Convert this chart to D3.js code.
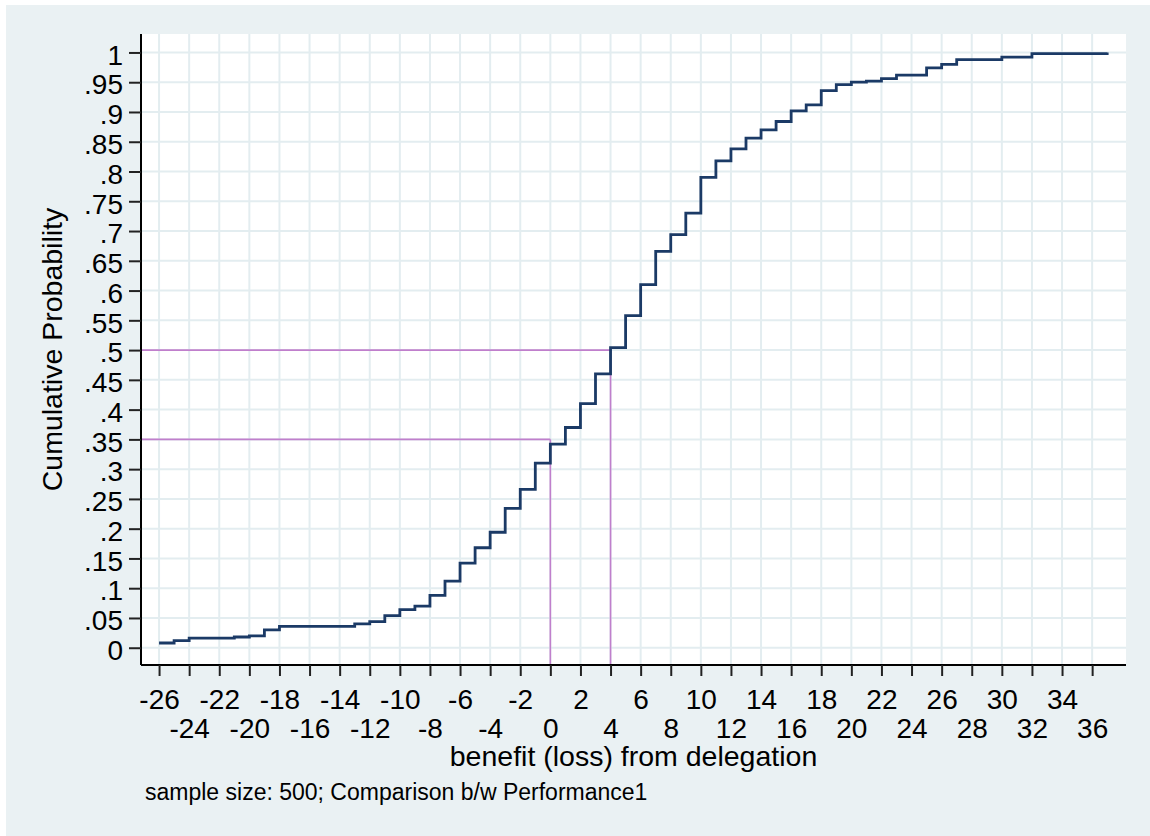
<!DOCTYPE html>
<html>
<head>
<meta charset="utf-8">
<script src="https://cdn.jsdelivr.net/npm/d3@7"></script>
<style>
  html, body { margin: 0; padding: 0; background: #ffffff; }
  svg { display: block; }
  text { font-family: "Liberation Sans", Arial, sans-serif; fill: #000; }
</style>
</head>
<body>
<svg id="chart" width="1150" height="836"></svg>
<script>
// Empirical CDF of the benefit (loss) from delegation: step positions and cumulative shares
const stepX = [-26, -25, -24, -21, -20, -19, -18, -13, -12, -11, -10, -9, -8, -7, -6, -5, -4, -3, -2, -1,
               0, 1, 2, 3, 4, 5, 6, 7, 8, 9, 10, 11, 12, 13, 14, 15, 16, 17, 18, 19,
               20, 21, 22, 23, 25, 26, 27, 30, 32, 37];
const cumProb = [0.008, 0.012, 0.016, 0.018, 0.020, 0.030, 0.036, 0.040, 0.044, 0.054, 0.064, 0.070, 0.088, 0.112, 0.142, 0.168, 0.194, 0.234, 0.266, 0.310,
                 0.342, 0.370, 0.410, 0.460, 0.504, 0.558, 0.610, 0.666, 0.694, 0.730, 0.790, 0.818, 0.838, 0.856, 0.870, 0.884, 0.902, 0.912, 0.936, 0.946,
                 0.950, 0.952, 0.956, 0.962, 0.974, 0.980, 0.988, 0.992, 0.998, 1.000];

// Reference lines: x value and the cumulative probability it is read at
const refX = [0, 4];
const refY = [0.35, 0.5];

// Axis ticks
const xTicks = [-26, -24, -22, -20, -18, -16, -14, -12, -10, -8, -6, -4, -2, 0, 2, 4, 6, 8, 10, 12, 14, 16, 18, 20, 22, 24, 26, 28, 30, 32, 34, 36];
const yTicks = [0, 0.05, 0.1, 0.15, 0.2, 0.25, 0.3, 0.35, 0.4, 0.45, 0.5, 0.55, 0.6, 0.65, 0.7, 0.75, 0.8, 0.85, 0.9, 0.95, 1];

// Axis extents
const xExtent = [-27.2, 38.25];
const yExtent = [-0.029, 1.031];

const xTitle = "benefit (loss) from delegation";
const yTitle = "Cumulative Probability";
const note = "sample size: 500; Comparison b/w Performance1";

const svg = d3.select("#chart");
const plot = { left: 141, right: 1126, top: 34, bottom: 665 };

const x = d3.scaleLinear().domain(xExtent).range([plot.left, plot.right]);
const y = d3.scaleLinear().domain(yExtent).range([plot.bottom, plot.top]);

// Outer graph region and white plot region
svg.append("rect").attr("x", 6).attr("y", 5).attr("width", 1144).attr("height", 831).attr("fill", "#eaf1f3");
svg.append("rect").attr("x", plot.left).attr("y", plot.top)
  .attr("width", plot.right - plot.left).attr("height", plot.bottom - plot.top).attr("fill", "#ffffff");

// Grid
const grid = svg.append("g").attr("stroke", "#e3edf0").attr("stroke-width", 2);
grid.selectAll("line.v").data(xTicks).join("line")
  .attr("x1", d => x(d)).attr("x2", d => x(d))
  .attr("y1", plot.top).attr("y2", plot.bottom);
grid.selectAll("line.h").data(yTicks).join("line")
  .attr("x1", plot.left).attr("x2", plot.right)
  .attr("y1", d => y(d)).attr("y2", d => y(d));

// Reference lines
const ref = svg.append("g").attr("stroke", "#c07fcc").attr("stroke-width", 1.6).attr("fill", "none");
refX.forEach((rx, i) => {
  ref.append("line").attr("x1", plot.left).attr("x2", x(rx)).attr("y1", y(refY[i])).attr("y2", y(refY[i]));
  ref.append("line").attr("x1", x(rx)).attr("x2", x(rx)).attr("y1", y(refY[i])).attr("y2", plot.bottom);
});

// ECDF step line
const pts = stepX.map((v, i) => [v, cumProb[i]]);
const line = d3.line().x(d => x(d[0])).y(d => y(d[1])).curve(d3.curveStepAfter);
svg.append("path").datum(pts)
  .attr("d", line)
  .attr("fill", "none")
  .attr("stroke", "#1b3a66")
  .attr("stroke-width", 2.8)
  .attr("stroke-linejoin", "miter");

// Y axis
const fmtY = d => d3.format(".2~f")(d).replace(/^0\./, ".");
const yAxis = svg.append("g").attr("transform", `translate(${plot.left},0)`)
  .call(d3.axisLeft(y).tickValues(yTicks).tickSize(12).tickPadding(6).tickFormat(fmtY));
yAxis.select(".domain").attr("d", `M0,${plot.top}V${plot.bottom}`).attr("stroke", "#000").attr("stroke-width", 2);
yAxis.selectAll(".tick line").attr("stroke", "#222").attr("stroke-width", 2);
yAxis.selectAll(".tick text")
  .attr("font-size", 28).attr("font-family", "Liberation Sans, Arial, sans-serif")
  .attr("fill", "#000").attr("dy", "0.42em");

// X axis with labels on two alternating rows
const xAxis = svg.append("g").attr("transform", `translate(0,${plot.bottom})`)
  .call(d3.axisBottom(x).tickValues(xTicks).tickSize(11).tickFormat(d => String(d)));
xAxis.select(".domain").attr("d", `M${plot.left},0H${plot.right}`).attr("stroke", "#000").attr("stroke-width", 2);
xAxis.selectAll(".tick line").attr("stroke", "#222").attr("stroke-width", 2);
xAxis.selectAll(".tick text")
  .attr("font-size", 28).attr("font-family", "Liberation Sans, Arial, sans-serif")
  .attr("fill", "#000")
  .attr("y", (d, i) => (i % 2 === 0 ? 44 : 73))
  .attr("dy", 0);

// Titles and note
svg.append("text")
  .attr("x", (plot.left + plot.right) / 2).attr("y", 766)
  .attr("text-anchor", "middle").attr("font-size", 28.5)
  .text(xTitle);
svg.append("text")
  .attr("transform", `translate(62,${(plot.top + plot.bottom) / 2}) rotate(-90)`)
  .attr("text-anchor", "middle").attr("font-size", 28.5)
  .text(yTitle);
svg.append("text")
  .attr("x", 145).attr("y", 800)
  .attr("font-size", 23)
  .text(note);
</script>
</body>
</html>
